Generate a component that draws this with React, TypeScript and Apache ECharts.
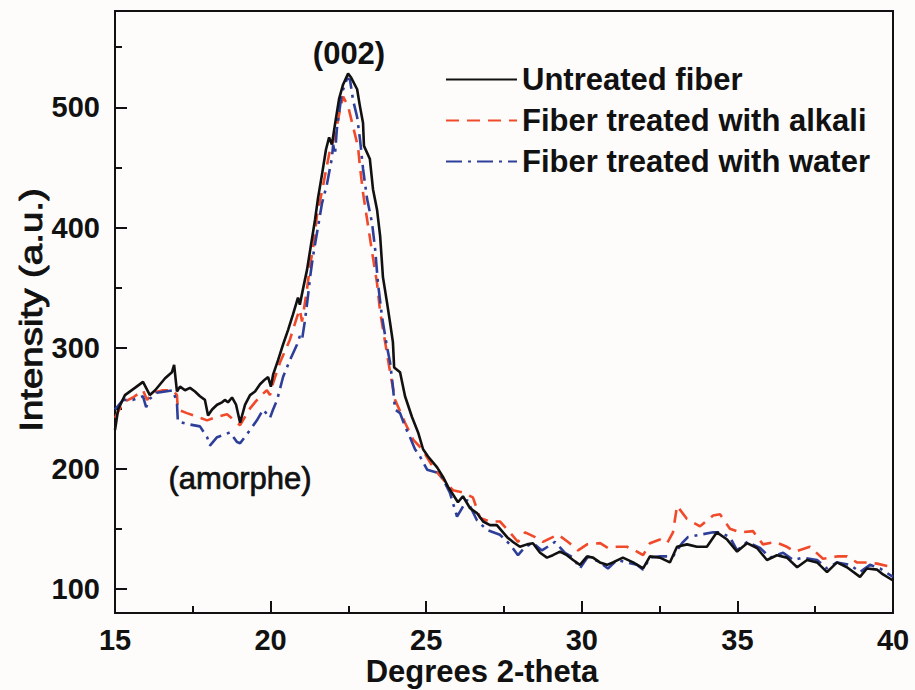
import React, { useEffect, useRef } from "react";
import * as echarts from "echarts";

// Degrees 2-theta / intensity pairs
const untreatedX = [15.0,15.1,15.32,15.64,15.9,16.12,16.29,16.45,16.61,16.83,16.9,16.99,17.09,17.25,17.41,17.57,17.73,17.89,17.99,18.12,18.28,18.44,18.53,18.63,18.76,18.89,19.02,19.18,19.34,19.5,19.66,19.82,19.92,20.01,20.08,20.24,20.4,20.56,20.72,20.88,20.94,21.04,21.17,21.3,21.43,21.52,21.65,21.78,21.88,21.97,22.07,22.2,22.33,22.49,22.58,22.78,22.87,22.97,23.0,23.19,23.29,23.42,23.52,23.61,23.74,23.84,23.93,23.97,24.16,24.32,24.54,24.74,24.9,25.06,25.35,25.54,25.7,26.02,26.18,26.41,26.63,26.83,27.05,27.27,27.6,27.79,28.01,28.24,28.43,28.66,28.88,29.07,29.3,29.52,29.72,29.94,30.17,30.36,30.58,30.81,31.0,31.32,31.65,31.97,32.19,32.51,32.83,33.06,33.38,33.7,34.02,34.34,34.67,34.99,35.31,35.63,35.95,36.27,36.59,36.92,37.24,37.56,37.88,38.2,38.52,38.94,39.16,39.49,39.68,40.0];
const untreatedY = [232,249,261,267,272,261,265,270,275,280,286,264,268,265,267,264,260,257,244,249,253,255,257,255,259,253,238,253,261,264,270,274,276,268,278,290,303,315,328,342,336,349,365,386,407,424,444,465,475,469,486,507,519,528,525,515,501,487,468,457,432,415,393,359,338,321,305,284,280,260,243,230,216,210,201,193,185,172,177,167,163,156,153,153,143,139,135,137,138,130,126,128,131,128,124,120,127,126,122,120,122,126,122,117,127,126,122,135,137,135,135,147,141,131,138,134,124,128,126,118,124,122,114,122,118,110,117,116,112,107];

const alkaliX = [15.0,15.26,15.58,15.9,16.03,16.22,16.54,16.86,16.99,17.02,17.31,17.64,17.96,18.28,18.6,19.02,19.34,19.66,19.88,19.98,20.08,20.3,20.62,20.85,20.94,21.01,21.17,21.27,21.36,21.49,21.68,21.91,22.07,22.23,22.33,22.49,22.65,22.81,22.87,22.97,23.1,23.26,23.42,23.52,23.68,23.84,24.0,24.32,24.58,24.87,25.22,25.54,25.86,26.18,26.5,26.73,27.05,27.37,27.69,27.95,28.18,28.5,28.75,28.98,29.24,29.56,29.88,30.17,30.59,30.84,31.13,31.45,31.71,31.97,32.19,32.51,32.74,32.93,33.06,33.38,33.8,34.22,34.44,34.76,35.08,35.5,35.82,36.21,36.59,36.85,37.33,37.75,38.2,38.52,38.84,39.16,39.49,39.81,40.0];
const alkaliY = [242,255,259,265,257,263,265,265,261,249,246,243,240,243,245,236,250,260,265,261,271,288,307,326,332,322,349,369,382,410,434,465,476,498,509,501,484,467,451,429,407,380,354,330,305,280,257,238,224,216,201,191,182,180,176,159,156,156,147,139,147,143,139,142,145,139,132,137,138,134,135,135,132,128,138,141,138,147,169,158,152,161,162,150,147,148,137,139,135,131,135,125,127,127,122,122,121,119,118];

const waterX = [15.0,15.26,15.58,15.9,16.0,16.12,16.35,16.86,16.99,17.02,17.31,17.73,17.96,18.05,18.28,18.7,18.92,19.02,19.34,19.56,19.76,19.98,20.08,20.21,20.4,20.62,20.85,20.94,21.01,21.11,21.2,21.27,21.36,21.52,21.65,21.81,21.97,22.01,22.07,22.13,22.29,22.46,22.55,22.65,22.78,22.87,22.97,23.1,23.26,23.36,23.45,23.58,23.74,23.84,23.93,24.0,24.16,24.32,24.48,24.64,24.8,25.03,25.44,25.76,25.99,26.31,26.63,26.95,27.37,27.69,27.95,28.18,28.43,28.72,29.14,29.46,29.72,29.94,30.2,30.59,30.84,31.13,31.45,31.77,31.97,32.19,32.51,32.93,33.22,33.41,33.8,34.22,34.44,34.76,34.99,35.31,35.73,36.05,36.47,36.79,37.11,37.56,37.88,38.2,38.62,38.94,39.26,39.58,40.0];
const waterY = [249,257,257,260,251,258,263,265,255,239,237,235,226,219,226,230,222,221,232,240,249,242,249,257,276,290,303,310,307,324,343,359,376,400,420,436,458,469,461,482,512,524,523,506,492,474,449,424,404,382,354,326,301,288,268,249,246,235,226,216,210,199,196,180,160,174,157,149,145,137,128,135,138,132,139,130,126,117,127,122,117,124,122,120,116,126,127,127,138,143,145,147,147,143,132,139,134,126,130,124,126,124,117,122,120,114,120,117,110];

const seriesNames = ["Untreated fiber", "Fiber treated with alkali", "Fiber treated with water"];
const xMajorTicks = [15, 20, 25, 30, 35, 40];
const yMajorTicks = [100, 200, 300, 400, 500];
const yMinorTicks = [150, 250, 350, 450, 550];
const xTitle = "Degrees 2-theta";
const yTitle = "Intensity (a.u.)";
const peakLabel = "(002)";
const amorphLabel = "(amorphe)";

const zip = (xs: number[], ys: number[]) => xs.map((x, i) => [x, ys[i]]);

export default function App() {
  const ref = useRef<HTMLDivElement>(null);
  useEffect(() => {
    if (!ref.current) return;
    const chart = echarts.init(ref.current, undefined, { renderer: "svg" });
    const font = "'Liberation Sans', Arial, sans-serif";
    const ink = "#111";
    const yBase = { type: "value", min: 80, max: 580, position: "left" };
    chart.setOption({
      animation: false,
      backgroundColor: "#fdfcfb",
      textStyle: { fontFamily: font },
      grid: {
        left: 115,
        right: 22,
        top: 11,
        bottom: 77,
        show: true,
        borderColor: ink,
        borderWidth: 2,
        backgroundColor: "transparent",
      },
      legend: {
        orient: "vertical",
        left: 440,
        top: 59,
        itemWidth: 71,
        itemHeight: 14,
        itemGap: 10,
        data: seriesNames,
        itemStyle: { opacity: 0 },
        textStyle: {
          fontFamily: font,
          fontSize: 31,
          fontWeight: "bold",
          color: ink,
          lineHeight: 31,
        },
      },
      xAxis: {
        type: "value",
        min: 15,
        max: 40,
        interval: 5,
        axisLine: { lineStyle: { color: ink, width: 2 } },
        axisTick: { inside: true, length: 12, lineStyle: { color: ink, width: 2 }, customValues: xMajorTicks },
        minorTick: { show: true, splitNumber: 2, length: 7, lineStyle: { color: ink, width: 2 } },
        axisLabel: { margin: 12, fontFamily: font, fontSize: 29, fontWeight: "bold", color: ink, customValues: xMajorTicks },
        splitLine: { show: false },
      },
      yAxis: [
        {
          ...yBase,
          axisLine: { show: true, lineStyle: { color: ink, width: 2 } },
          axisTick: { show: true, inside: true, length: 12, lineStyle: { color: ink, width: 2 }, customValues: yMajorTicks },
          axisLabel: { margin: 15, fontFamily: font, fontSize: 29, fontWeight: "bold", color: ink, customValues: yMajorTicks },
          splitLine: { show: false },
        },
        {
          ...yBase,
          axisLine: { show: false },
          axisTick: { show: true, inside: true, length: 7, lineStyle: { color: ink, width: 2 }, customValues: yMinorTicks },
          axisLabel: { show: false },
          splitLine: { show: false },
        },
      ],
      graphic: [
        {
          type: "text",
          x: 482,
          y: 671,
          style: { text: xTitle, font: `bold 31px ${font}`, fill: ink, align: "center", verticalAlign: "middle" },
        },
        {
          type: "text",
          x: 31,
          y: 310,
          rotation: Math.PI / 2,
          scaleX: 1.24,
          style: {
            text: yTitle,
            font: `31px ${font}`,
            fill: ink,
            stroke: ink,
            lineWidth: 0.9,
            align: "center",
            verticalAlign: "middle",
          },
        },
        {
          type: "text",
          x: 349,
          y: 53,
          style: { text: peakLabel, font: `bold 31px ${font}`, fill: ink, align: "center", verticalAlign: "middle" },
        },
        {
          type: "text",
          x: 240,
          y: 478,
          style: {
            text: amorphLabel,
            font: `31px ${font}`,
            fill: ink,
            stroke: ink,
            lineWidth: 0.7,
            align: "center",
            verticalAlign: "middle",
          },
        },
      ],
      series: [
        {
          name: seriesNames[0],
          type: "line",
          data: zip(untreatedX, untreatedY),
          symbol: "none",
          showSymbol: false,
          lineStyle: { color: ink, width: 2.6, type: "solid" },
          itemStyle: { color: ink },
          z: 3,
        },
        {
          name: seriesNames[1],
          type: "line",
          data: zip(alkaliX, alkaliY),
          symbol: "none",
          showSymbol: false,
          lineStyle: { color: "#f04a2a", width: 2.6, type: [13, 8] },
          itemStyle: { color: "#f04a2a" },
          z: 2,
        },
        {
          name: seriesNames[2],
          type: "line",
          data: zip(waterX, waterY),
          symbol: "none",
          showSymbol: false,
          lineStyle: { color: "#2e3f9a", width: 2.6, type: [16, 6, 3, 6] },
          itemStyle: { color: "#2e3f9a" },
          z: 2,
        },
      ],
    });
    return () => chart.dispose();
  }, []);
  return (
    <div
      ref={ref}
      style={{ position: "fixed", left: 0, top: 0, width: 915, height: 690 }}
    />
  );
}
